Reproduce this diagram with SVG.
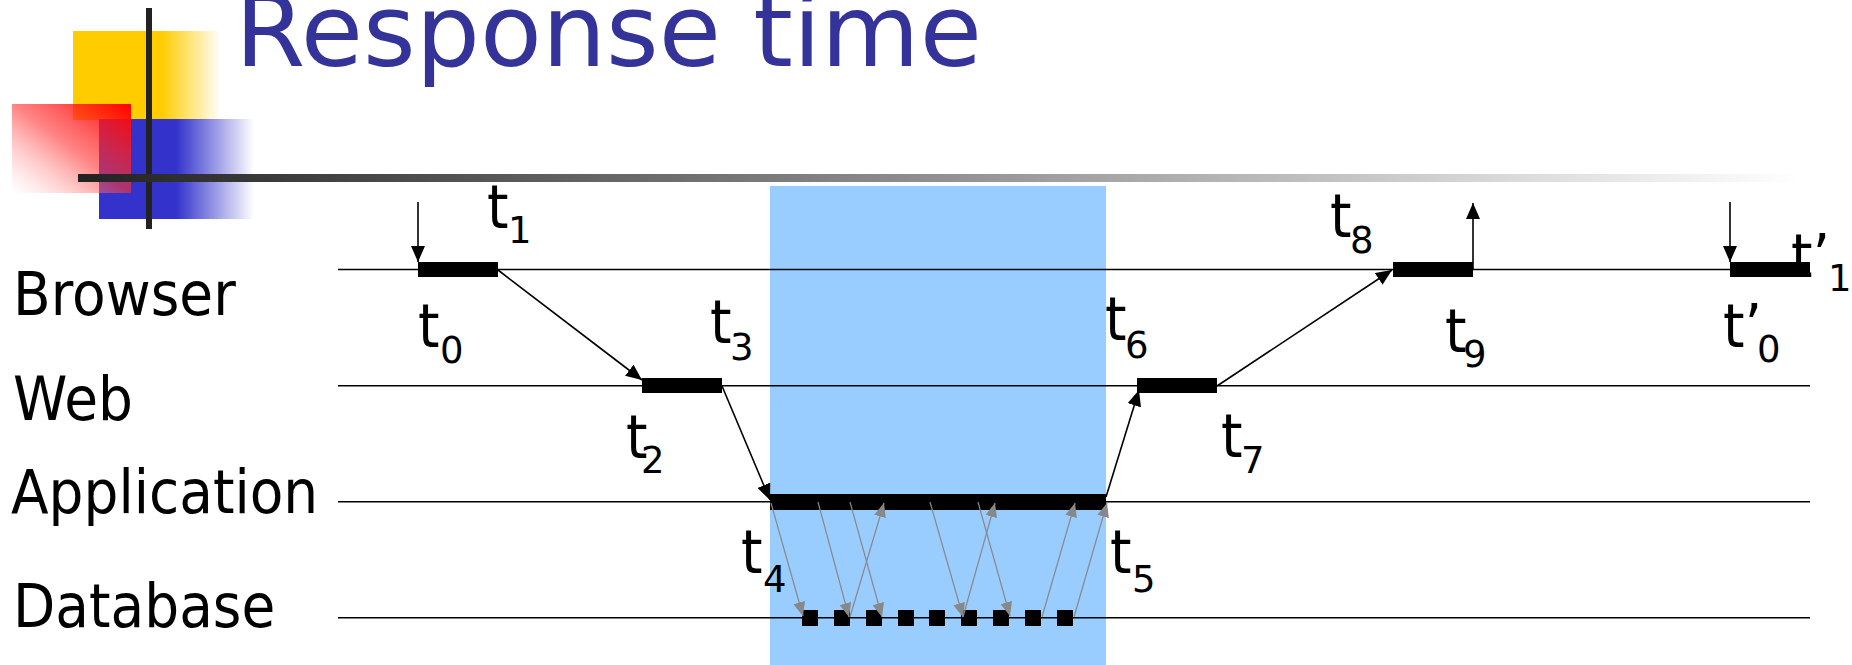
<svg xmlns="http://www.w3.org/2000/svg" width="1852" height="665" viewBox="0 0 1852 665">
<style>
.lbl{font-family:"DejaVu Sans","Verdana",sans-serif;font-size:55px;fill:#000}
.sub{font-family:"DejaVu Sans","Verdana",sans-serif;font-size:37px;fill:#000}
.lane{stroke:#000;stroke-width:1.6;fill:none}
.bar{fill:#000}
.arr{stroke:#000;stroke-width:1.6;fill:none;marker-end:url(#ah)}
.garr{stroke:#888;stroke-width:1.2;fill:none;marker-end:url(#gh)}
</style>
<defs>
<linearGradient id="yel" x1="0" y1="0" x2="1" y2="0">
<stop offset="0" stop-color="#FFCC00"/><stop offset="0.6" stop-color="#FFCC00"/><stop offset="1" stop-color="#FFCC00" stop-opacity="0"/>
</linearGradient>
<linearGradient id="blu" x1="0" y1="0" x2="1" y2="0">
<stop offset="0" stop-color="#3333CC"/><stop offset="0.5" stop-color="#3333CC"/><stop offset="1" stop-color="#3333CC" stop-opacity="0"/>
</linearGradient>
<linearGradient id="red" x1="1" y1="0" x2="0" y2="1">
<stop offset="0" stop-color="#FF0000" stop-opacity="1"/><stop offset="0.5" stop-color="#FF3333" stop-opacity="0.6"/><stop offset="1" stop-color="#FFFFFF" stop-opacity="0.3"/>
</linearGradient>
<linearGradient id="hl" x1="0" y1="0" x2="1" y2="0">
<stop offset="0" stop-color="#222"/><stop offset="1" stop-color="#fff"/>
</linearGradient>
<marker id="ah" markerUnits="userSpaceOnUse" markerWidth="16" markerHeight="14" refX="16" refY="7" orient="auto">
<path d="M0,0 L16,7 L0,14 z" fill="#000"/>
</marker>
<marker id="gh" markerUnits="userSpaceOnUse" markerWidth="14" markerHeight="12" refX="14" refY="6" orient="auto">
<path d="M0,0 L14,6 L0,12 z" fill="#888"/>
</marker>
</defs>
<rect width="1852" height="665" fill="#fff"/>
<g id="decoration">
<rect x="73" y="31" width="148" height="89" fill="url(#yel)"/>
<rect x="99" y="119" width="155" height="100" fill="url(#blu)"/>
<rect x="12" y="104" width="119" height="89" fill="url(#red)"/>
<rect x="146" y="8" width="6" height="221" fill="#222"/>
<rect x="78" y="174" width="1722" height="8" fill="url(#hl)"/>
</g>
<text id="title" x="235" y="66" font-family="DejaVu Sans, Verdana, sans-serif" font-size="100" fill="#333399" textLength="747" lengthAdjust="spacingAndGlyphs">Response time</text>
<rect id="highlight" x="770" y="186" width="336" height="479" fill="#99CCFF"/>
<g id="lanes">
<g id="lane-browser"><line class="lane" x1="338" y1="269.5" x2="1810" y2="269.5"/><text class="lbl" transform="translate(13,315) scale(1,1.1)">Browser</text></g>
<g id="lane-web"><line class="lane" x1="338" y1="385.7" x2="1810" y2="385.7"/><text class="lbl" transform="translate(13,420) scale(1,1.1)">Web</text></g>
<g id="lane-app"><line class="lane" x1="338" y1="501.7" x2="1810" y2="501.7"/><text class="lbl" transform="translate(11,513) scale(1,1.1)">Application</text></g>
<g id="lane-db"><line class="lane" x1="338" y1="617.7" x2="1810" y2="617.7"/><text class="lbl" transform="translate(13,627) scale(1,1.1)">Database</text></g>
</g>
<g id="bars">
<rect id="bar-b1" class="bar" x="418" y="262" width="80" height="15"/>
<rect id="bar-w1" class="bar" x="642" y="378" width="80" height="15"/>
<rect id="bar-app" class="bar" x="770" y="494" width="336" height="16"/>
<rect id="bar-w2" class="bar" x="1137" y="378" width="80" height="15"/>
<rect id="bar-b2" class="bar" x="1393" y="262" width="80" height="15"/>
<rect id="bar-b3" class="bar" x="1730" y="262" width="80" height="15"/>
<g id="db-calls">
<rect class="bar" x="802" y="610" width="16" height="16"/>
<rect class="bar" x="834" y="610" width="16" height="16"/>
<rect class="bar" x="866" y="610" width="16" height="16"/>
<rect class="bar" x="898" y="610" width="16" height="16"/>
<rect class="bar" x="929" y="610" width="16" height="16"/>
<rect class="bar" x="961" y="610" width="16" height="16"/>
<rect class="bar" x="993" y="610" width="16" height="16"/>
<rect class="bar" x="1025" y="610" width="16" height="16"/>
<rect class="bar" x="1057" y="610" width="16" height="16"/>
</g>
</g>
<g id="connectors">
<line class="arr" x1="418" y1="202" x2="418" y2="262"/>
<line class="arr" x1="498" y1="270" x2="642" y2="380"/>
<line class="arr" x1="722" y1="386" x2="770" y2="500"/>
<line class="arr" x1="1106" y1="497" x2="1139" y2="390"/>
<line class="arr" x1="1217" y1="386" x2="1392" y2="270"/>
<line class="arr" x1="1473" y1="270" x2="1473" y2="203"/>
<line class="arr" x1="1730" y1="202" x2="1730" y2="262"/>
<line class="garr" x1="771" y1="503" x2="803" y2="616"/>
<line class="garr" x1="818" y1="502" x2="849" y2="617"/>
<line class="garr" x1="850" y1="502" x2="882" y2="617"/>
<line class="garr" x1="930" y1="502" x2="963" y2="617"/>
<line class="garr" x1="978" y1="502" x2="1010" y2="616"/>
<line class="garr" x1="850" y1="617" x2="884" y2="503"/>
<line class="garr" x1="963" y1="617" x2="995" y2="503"/>
<line class="garr" x1="1042" y1="617" x2="1075" y2="503"/>
<line class="garr" x1="1074" y1="617" x2="1107" y2="503"/>
</g>
<g id="time-labels">
<g id="t1"><text class="lbl" transform="translate(487,228) scale(1,1.1)">t</text><text class="sub" x="508" y="243">1</text></g>
<g id="t0"><text class="lbl" transform="translate(418,347) scale(1,1.1)">t</text><text class="sub" x="440" y="363">0</text></g>
<g id="t3"><text class="lbl" transform="translate(710,343) scale(1,1.1)">t</text><text class="sub" x="730" y="360">3</text></g>
<g id="t2"><text class="lbl" transform="translate(626,458) scale(1,1.1)">t</text><text class="sub" x="641" y="473">2</text></g>
<g id="t4"><text class="lbl" transform="translate(741,573) scale(1,1.1)">t</text><text class="sub" x="763" y="592">4</text></g>
<g id="t5"><text class="lbl" transform="translate(1110,573) scale(1,1.1)">t</text><text class="sub" x="1132" y="592">5</text></g>
<g id="t6"><text class="lbl" transform="translate(1105,340) scale(1,1.1)">t</text><text class="sub" x="1125" y="358">6</text></g>
<g id="t7"><text class="lbl" transform="translate(1221,457) scale(1,1.1)">t</text><text class="sub" x="1241" y="473">7</text></g>
<g id="t8"><text class="lbl" transform="translate(1330,237) scale(1,1.1)">t</text><text class="sub" x="1350" y="253">8</text></g>
<g id="t9"><text class="lbl" transform="translate(1445,352) scale(1,1.1)">t</text><text class="sub" x="1463" y="367">9</text></g>
<g id="tp0"><text class="lbl" transform="translate(1723,347) scale(1,1.1)">t’</text><text class="sub" x="1757" y="362">0</text></g>
<g id="tp1"><text class="lbl" transform="translate(1791,277) scale(1,1.1)">t’</text><text class="sub" x="1828" y="291">1</text></g>
</g>
</svg>
